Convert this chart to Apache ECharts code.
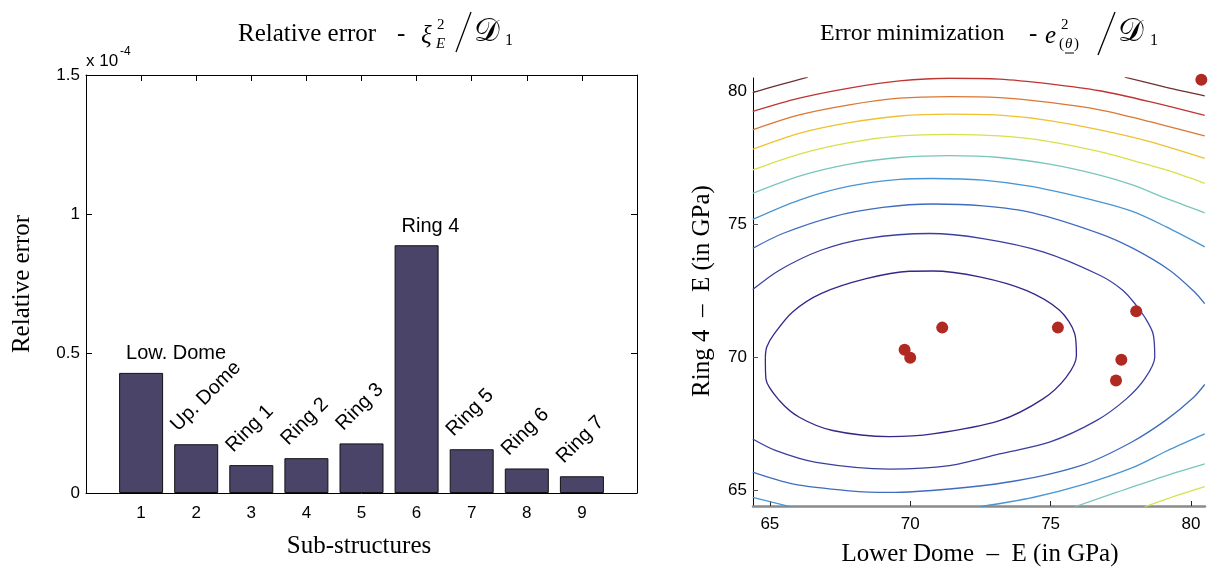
<!DOCTYPE html>
<html>
<head>
<meta charset="utf-8">
<title>Relative error / Error minimization</title>
<script src="https://cdn.jsdelivr.net/npm/echarts@6/dist/echarts.min.js"></script>
<style>
  html, body { margin: 0; padding: 0; background: #fff; }
  #chart { width: 1211px; height: 568px; }
</style>
</head>
<body>
<div id="chart"></div>
<script>
// left panel: relative error per sub-structure
const subStructures = [1, 2, 3, 4, 5, 6, 7, 8, 9];
const barNames = ['Low. Dome', 'Up. Dome', 'Ring 1', 'Ring 2', 'Ring 3', 'Ring 4', 'Ring 5', 'Ring 6', 'Ring 7'];
const relError = [0.431e-4, 0.175e-4, 0.100e-4, 0.125e-4, 0.178e-4, 0.889e-4, 0.157e-4, 0.088e-4, 0.060e-4];

// right panel: identified minima (Lower Dome E, Ring 4 E)
const minimaLowerDome = [80.37, 78.05, 71.14, 75.26, 69.80, 70.00, 77.52, 77.33];
const minimaRing4 = [80.43, 71.73, 71.11, 71.11, 70.28, 69.98, 69.90, 69.12];
const gpaTicks = [65, 70, 75, 80];

// contour lines, innermost level first; each level is a list of pieces
const contour1 = [[[64.84, 70.00], [64.89, 70.38], [65.16, 70.88], [65.81, 71.70], [66.82, 72.39], [68.43, 72.95], [69.97, 73.23], [70.80, 73.24], [72.47, 73.02], [74.13, 72.51], [75.32, 71.76], [75.86, 70.88], [75.92, 70.06], [75.56, 69.25], [74.73, 68.43], [73.18, 67.61], [70.80, 67.11], [69.26, 67.01], [67.24, 67.24], [66.05, 67.74], [65.34, 68.37], [64.86, 69.18], [64.84, 70.00]]];
const contour2 = [[[64.39, 72.54], [65.34, 73.27], [66.82, 74.02], [68.43, 74.46], [70.69, 74.65], [72.59, 74.46], [74.73, 73.96], [76.75, 73.08], [77.58, 72.51], [78.05, 71.95], [78.35, 71.51], [78.65, 70.88], [78.71, 70.00], [78.35, 69.18], [77.70, 68.43], [76.63, 67.61], [74.96, 66.80], [73.18, 66.36], [71.40, 65.92], [69.26, 65.79], [66.65, 66.04], [65.22, 66.48], [64.39, 66.92]]];
const contour3 = [
  [[64.39, 74.09], [65.46, 74.65], [67.24, 75.28], [69.02, 75.63], [70.80, 75.76], [72.59, 75.69], [74.37, 75.43], [76.75, 74.65], [77.94, 74.09], [79.24, 73.27], [80.13, 72.45], [80.49, 72.01]],
  [[80.49, 68.97], [80.08, 68.47], [79.12, 67.64], [77.88, 66.80], [76.15, 65.95], [73.78, 65.35], [71.40, 65.04], [69.26, 64.91], [67.83, 64.97], [65.81, 65.23], [64.39, 65.67]]
];
const contour4 = [
  [[64.39, 75.18], [66.05, 75.91], [67.83, 76.43], [69.62, 76.69], [70.80, 76.72], [72.59, 76.66], [74.37, 76.41], [76.75, 75.84], [77.94, 75.47], [79.12, 74.90], [80.49, 74.15]],
  [[64.39, 64.72], [65.75, 64.37]],
  [[72.47, 64.37], [74.37, 64.72], [76.15, 65.20], [77.94, 65.85], [79.12, 66.46], [80.49, 67.11]]
];
const contour5 = [
  [[64.39, 76.16], [66.05, 76.81], [67.83, 77.26], [69.62, 77.51], [71.40, 77.58], [73.18, 77.51], [74.96, 77.26], [76.75, 76.85], [77.94, 76.47], [79.12, 75.97], [80.49, 75.43]],
  [[75.86, 64.37], [77.34, 64.91], [79.12, 65.54], [80.49, 65.98]]
];
const contour6 = [
  [[64.39, 77.04], [66.05, 77.64], [67.83, 78.07], [69.62, 78.32], [71.40, 78.38], [73.18, 78.32], [74.96, 78.11], [76.75, 77.73], [77.94, 77.39], [79.12, 77.04], [80.49, 76.54]],
  [[78.35, 64.37], [79.48, 64.79], [80.49, 65.13]]
];
const contour7 = [[[64.39, 77.82], [66.05, 78.42], [67.83, 78.82], [69.62, 79.07], [71.40, 79.14], [73.18, 79.10], [74.96, 78.90], [76.75, 78.55], [78.53, 78.11], [80.49, 77.48]]];
const contour8 = [[[64.39, 78.55], [66.05, 79.11], [67.83, 79.49], [69.62, 79.74], [71.40, 79.80], [73.18, 79.76], [74.96, 79.58], [76.75, 79.30], [78.53, 78.86], [80.49, 78.32]]];
const contour9 = [[[64.39, 79.24], [66.05, 79.74], [67.83, 80.12], [69.62, 80.39], [71.40, 80.49], [73.18, 80.46], [74.96, 80.28], [76.75, 80.02], [78.53, 79.61], [80.49, 79.09]]];
const contour10 = [
  [[64.39, 79.95], [65.34, 80.24], [66.35, 80.53]],
  [[77.64, 80.53], [79.12, 80.15], [80.49, 79.83]]
];

const contours = [contour1, contour2, contour3, contour4, contour5, contour6, contour7, contour8, contour9, contour10];
const contourColors = ['#33288a', '#3a3f9e', '#3f6cbf', '#4795d4', '#79c6bc', '#d9e04a', '#efc12e', '#dc7632', '#be3432', '#6e2f2f'];
const flatLabels = [0, 5]; // these two bar labels are not rotated

const sans = '"Liberation Sans", Arial, Helvetica, sans-serif';
const serif = '"Liberation Serif", "Times New Roman", serif';

const chart = echarts.init(document.getElementById('chart'), null, { renderer: 'canvas' });

const boxAxis = (extra) => Object.assign({
  axisLine: { show: true, onZero: false, lineStyle: { color: '#000', width: 1 } },
  axisTick: { show: true, inside: true, length: 6, lineStyle: { color: '#000' } },
  axisLabel: { show: false },
  splitLine: { show: false }
}, extra);

const contourSeries = [];
contours.forEach((level, li) => {
  level.forEach(piece => {
    contourSeries.push({
      type: 'line',
      xAxisIndex: 2,
      yAxisIndex: 2,
      data: piece,
      showSymbol: false,
      smooth: 0.3,
      silent: true,
      clip: true,
      lineStyle: { color: contourColors[li], width: 1.3 },
      z: 2
    });
  });
});

function txt(x, y, text, size, opt) {
  opt = opt || {};
  return {
    type: 'text',
    x: x, y: y,
    rotation: opt.rotation || 0,
    style: {
      text: text,
      font: (opt.italic ? 'italic ' : '') + size + 'px ' + (opt.family || serif),
      fill: '#000',
      textAlign: opt.align || 'left',
      textVerticalAlign: 'middle'
    }
  };
}
function slash(x1, y1, x2, y2) {
  return { type: 'line', shape: { x1: x1, y1: y1, x2: x2, y2: y2 }, style: { stroke: '#000', lineWidth: 1.3 } };
}

const option = {
  animation: false,
  backgroundColor: '#fff',
  grid: [
    { left: 86, top: 75, width: 551, height: 418 },
    { left: 753, top: 78, width: 452, height: 428 }
  ],
  xAxis: [
    boxAxis({
      type: 'value', gridIndex: 0, min: 0, max: 10, interval: 1, position: 'bottom',
      axisLabel: {
        show: true, fontFamily: sans, fontSize: 17, color: '#000', margin: 12,
        formatter: v => (v >= 1 && v <= 9 ? String(v) : '')
      }
    }),
    boxAxis({ type: 'value', gridIndex: 0, min: 0, max: 10, interval: 1, position: 'top' }),
    {
      type: 'value', gridIndex: 1, min: 64.4, max: 80.5,
      axisLine: { show: true, onZero: false, lineStyle: { color: '#8a8a8a', width: 2.5 } },
      axisTick: { show: true, inside: true, length: 5, customValues: gpaTicks, lineStyle: { color: '#222' } },
      axisLabel: { show: true, customValues: gpaTicks, fontFamily: sans, fontSize: 17, color: '#000', margin: 10 },
      splitLine: { show: false }
    }
  ],
  yAxis: [
    boxAxis({
      type: 'value', gridIndex: 0, min: 0, max: 1.5e-4, interval: 0.5e-4, position: 'left',
      axisLabel: {
        show: true, fontFamily: sans, fontSize: 17, color: '#000', margin: 6,
        formatter: v => String(Math.round(v * 1e5) / 10)
      }
    }),
    boxAxis({ type: 'value', gridIndex: 0, min: 0, max: 1.5e-4, interval: 0.5e-4, position: 'right' }),
    {
      type: 'value', gridIndex: 1, min: 64.4, max: 80.5,
      axisLine: { show: true, onZero: false, lineStyle: { color: '#000', width: 1 } },
      axisTick: { show: true, inside: true, length: 5, customValues: gpaTicks, lineStyle: { color: '#555' } },
      axisLabel: { show: true, customValues: gpaTicks, fontFamily: sans, fontSize: 17, color: '#000', margin: 6 },
      splitLine: { show: false }
    }
  ],
  series: [
    {
      type: 'bar',
      xAxisIndex: 0,
      yAxisIndex: 0,
      barWidth: 44,
      data: subStructures.map((s, i) => {
        const item = { value: [s, relError[i]] };
        if (flatLabels.indexOf(i) >= 0) item.label = { rotate: 0 };
        return item;
      }),
      itemStyle: { color: '#4a4468', borderColor: '#111', borderWidth: 1 },
      label: {
        show: true,
        position: [7, -9],
        rotate: 45,
        align: 'left',
        verticalAlign: 'bottom',
        fontFamily: sans,
        fontSize: 20,
        color: '#000',
        formatter: p => barNames[p.dataIndex]
      },
      silent: true
    }
  ].concat(contourSeries, [
    {
      type: 'scatter',
      xAxisIndex: 2,
      yAxisIndex: 2,
      data: minimaLowerDome.map((x, i) => [x, minimaRing4[i]]),
      symbolSize: 12,
      clip: false,
      itemStyle: { color: '#b02a22', opacity: 1 },
      silent: true,
      z: 5
    }
  ]),
  graphic: [
    // left title: Relative error - xi_E^2 / D_1
    txt(238, 34, 'Relative error', 25),
    txt(397, 34, '-', 25),
    txt(421, 36, 'ξ', 25, { italic: true }),
    txt(437, 25, '2', 15),
    txt(436, 44, 'E', 15, { italic: true }),
    slash(456, 52, 471, 12),
    txt(474, 33, '𝒟', 32),
    txt(505, 41, '1', 16),
    // x 10^-4 multiplier
    txt(86, 61, 'x 10', 17, { family: sans }),
    txt(120, 52, '-4', 12, { family: sans }),
    // left axis titles
    txt(22, 284, 'Relative error', 25, { align: 'center', rotation: Math.PI / 2 }),
    txt(359, 546, 'Sub-structures', 25, { align: 'center' }),
    // right title: Error minimization - e_(theta)^2 / D_1
    txt(820, 34, 'Error minimization', 24),
    txt(1029, 34, '-', 25),
    txt(1045, 36, 'e', 25, { italic: true }),
    txt(1061, 25, '2', 15),
    txt(1059, 44, '(', 15),
    txt(1065, 44, 'θ', 15, { italic: true }),
    txt(1074, 44, ')', 15),
    { type: 'line', shape: { x1: 1065, y1: 53, x2: 1074, y2: 53 }, style: { stroke: '#000', lineWidth: 1 } },
    slash(1098, 55, 1115, 12),
    txt(1118, 33, '𝒟', 32),
    txt(1150, 41, '1', 16),
    // right axis titles
    txt(702, 291, 'Ring 4  –  E (in GPa)', 25, { align: 'center', rotation: Math.PI / 2 }),
    txt(980, 554, 'Lower Dome  –  E (in GPa)', 25, { align: 'center' })
  ]
};

chart.setOption(option);
</script>
</body>
</html>
